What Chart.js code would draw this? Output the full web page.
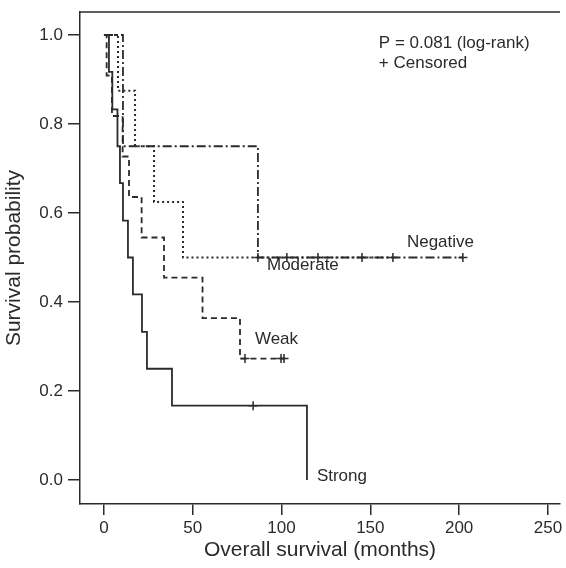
<!DOCTYPE html>
<html>
<head>
<meta charset="utf-8">
<script src="https://cdn.jsdelivr.net/npm/chart.js@4/dist/chart.umd.min.js"></script>
<style>
  html, body { margin: 0; padding: 0; background: #fff; }
  #wrap { width: 566px; height: 568px; }
</style>
</head>
<body>
<div id="wrap"><canvas id="km" width="566" height="568"></canvas></div>
<script>
// Kaplan-Meier steps (months, survival probability)
const strongTime = [0, 2.8, 4.7, 7.6, 9.0, 10.7, 13.5, 16.3, 21.4, 24.2, 38.3, 114.3];
const strongSurv = [1, 0.917, 0.833, 0.75, 0.667, 0.583, 0.5, 0.417, 0.333, 0.25, 0.167, 0];
const strongCensTime = [84];
const strongCensSurv = [0.167];

const weakTime = [0, 1.5, 4.5, 10.5, 14.1, 21.2, 33.8, 55.5, 76.6, 101.4];
const weakSurv = [1, 0.909, 0.818, 0.727, 0.636, 0.545, 0.455, 0.364, 0.273, 0.273];
const weakCensTime = [79.4, 99.7, 101.4];
const weakCensSurv = [0.273, 0.273, 0.273];

const moderateTime = [0, 7.9, 17.5, 28.2, 44.5, 162.7];
const moderateSurv = [1, 0.875, 0.75, 0.625, 0.5, 0.5];
const moderateCensTime = [103, 120.5, 145.3, 162.7];
const moderateCensSurv = [0.5, 0.5, 0.5, 0.5];

const negativeTime = [0, 10.7, 86.7, 202.1];
const negativeSurv = [1, 0.75, 0.5, 0.5];
const negativeCensTime = [86.7, 202.1];
const negativeCensSurv = [0.5, 0.5];

const xTicks = [0, 50, 100, 150, 200, 250];
const yTicks = [0, 0.2, 0.4, 0.6, 0.8, 1.0];

const ink = "#2b2b2b";
const font = "'Liberation Sans', Arial, sans-serif";

function pts(t, s) {
  return t.map((v, i) => ({ x: v, y: s[i] }));
}

function curve(t, s, dash, width) {
  return {
    data: pts(t, s),
    showLine: true,
    stepped: "before",
    borderColor: ink,
    borderWidth: width,
    borderDash: dash,
    pointRadius: 0,
    fill: false
  };
}

function censored(t, s) {
  return {
    data: pts(t, s),
    showLine: false,
    pointStyle: "cross",
    pointRadius: 4.5,
    borderColor: ink,
    borderWidth: 1.5,
    backgroundColor: ink
  };
}

// text on the plot, anchored in data units
const notes = [
  { text: "P = 0.081 (log-rank)", x: 154.8, y: 0.982 },
  { text: "+ Censored", x: 154.8, y: 0.937 },
  { text: "Negative", x: 170.6, y: 0.535 },
  { text: "Moderate", x: 91.8, y: 0.483 },
  { text: "Weak", x: 85.0, y: 0.316 },
  { text: "Strong", x: 119.9, y: 0.009 }
];

const notesPlugin = {
  id: "notes",
  afterDatasetsDraw(chart) {
    const { ctx, scales, chartArea } = chart;
    ctx.save();
    // top frame line
    ctx.strokeStyle = ink;
    ctx.lineWidth = 1.5;
    ctx.beginPath();
    ctx.moveTo(chartArea.left, chartArea.top);
    ctx.lineTo(chartArea.right, chartArea.top);
    ctx.stroke();

    ctx.fillStyle = ink;
    ctx.font = "17px " + font;
    ctx.textAlign = "left";
    ctx.textBaseline = "middle";
    notes.forEach(n => {
      ctx.fillText(n.text, scales.x.getPixelForValue(n.x), scales.y.getPixelForValue(n.y));
    });
    ctx.restore();
  }
};

new Chart(document.getElementById("km"), {
  type: "scatter",
  data: {
    datasets: [
      curve(negativeTime, negativeSurv, [9, 3, 2, 3], 1.8),
      curve(moderateTime, moderateSurv, [2, 3], 2),
      curve(weakTime, weakSurv, [6, 4], 1.8),
      curve(strongTime, strongSurv, [], 1.8),
      censored(negativeCensTime, negativeCensSurv),
      censored(moderateCensTime, moderateCensSurv),
      censored(weakCensTime, weakCensSurv),
      censored(strongCensTime, strongCensSurv)
    ]
  },
  options: {
    responsive: false,
    animation: false,
    layout: { padding: { top: 12, right: 0, left: 0, bottom: 0 } },
    plugins: {
      legend: { display: false },
      tooltip: { enabled: false }
    },
    scales: {
      x: {
        type: "linear",
        min: -13.5,
        max: 256.8,
        afterFit: s => { s.height = 64; s.paddingLeft = 0; s.paddingRight = 0; },
        afterBuildTicks: s => { s.ticks = xTicks.map(v => ({ value: v })); },
        grid: { drawOnChartArea: false, drawTicks: true, tickLength: 11, color: ink, lineWidth: 1.5 },
        border: { display: true, color: ink, width: 1.5 },
        ticks: { color: ink, font: { family: font, size: 17 }, padding: 3, maxRotation: 0 },
        title: {
          display: true,
          text: "Overall survival (months)",
          color: ink,
          font: { family: font, size: 21 },
          padding: { top: 0, bottom: 5 }
        }
      },
      y: {
        type: "linear",
        min: -0.0539,
        max: 1.0517,
        afterFit: s => { s.width = 80; s.paddingTop = 0; s.paddingBottom = 0; },
        afterBuildTicks: s => { s.ticks = yTicks.map(v => ({ value: v })); },
        grid: { drawOnChartArea: false, drawTicks: true, tickLength: 12, color: ink, lineWidth: 1.5 },
        border: { display: true, color: ink, width: 1.5 },
        ticks: {
          color: ink,
          font: { family: font, size: 17 },
          padding: 5,
          callback: v => v.toFixed(1)
        },
        title: {
          display: true,
          text: "Survival probability",
          color: ink,
          font: { family: font, size: 21 },
          padding: { top: 2, bottom: 0 }
        }
      }
    }
  },
  plugins: [notesPlugin]
});
</script>
</body>
</html>
